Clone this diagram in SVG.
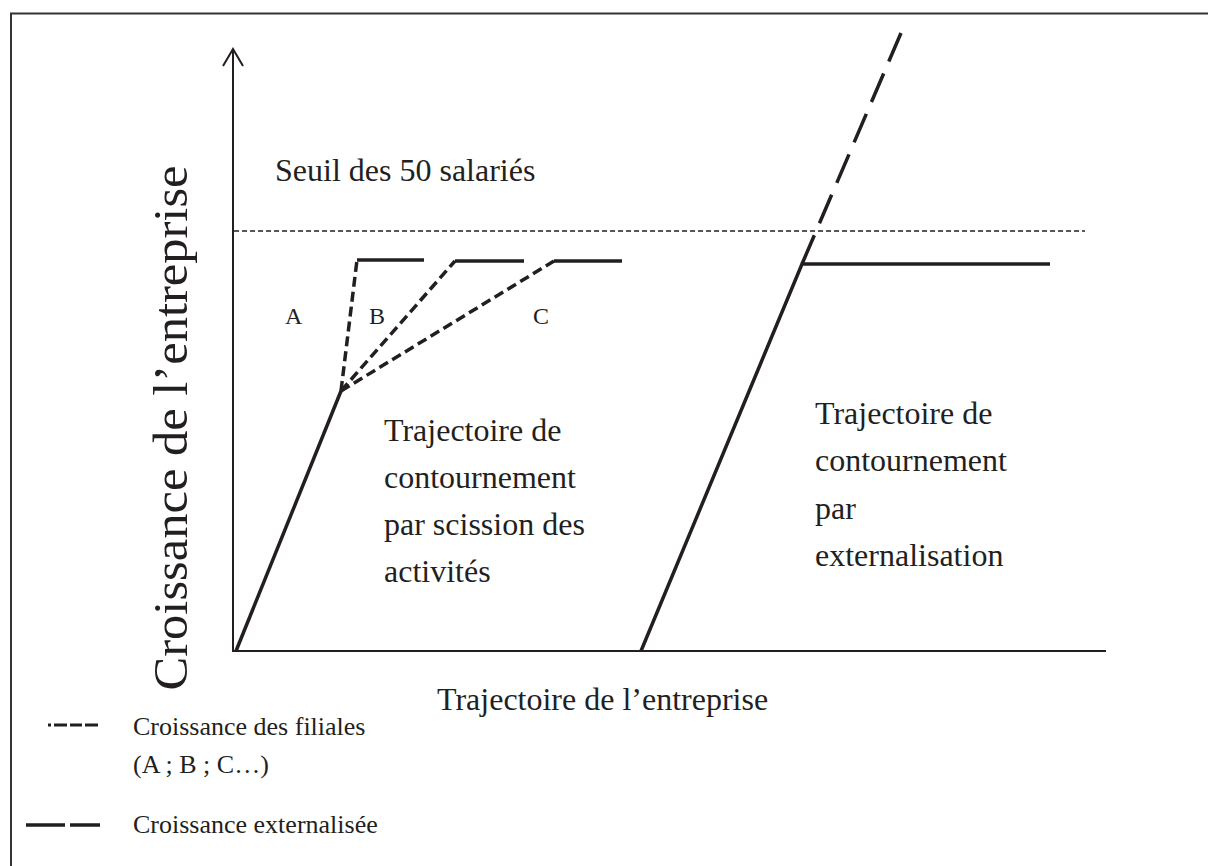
<svg xmlns="http://www.w3.org/2000/svg" width="1208" height="866" viewBox="0 0 1208 866">
<style>
text{font-family:"Liberation Serif","Times New Roman",serif;fill:#231f20}
.big{font-size:32px}
.mid{font-size:24px}
.leg{font-size:26px}
.frame{stroke:#333;stroke-width:2;fill:none}
.axis{stroke:#231f20;stroke-width:2;fill:none}
.thick{stroke:#231f20;stroke-width:3.5;fill:none}
.dash{stroke:#231f20;stroke-width:3.5;fill:none;stroke-dasharray:10 5}
.long{stroke:#231f20;stroke-width:3.5;fill:none;stroke-dasharray:31 13}
.thr{stroke:#231f20;stroke-width:1.5;fill:none;stroke-dasharray:5 3}
</style>
<rect width="1208" height="866" fill="#fff"/>
<g id="frame">
<path class="frame" d="M11,866 V13.5 H1208"/>
</g>
<g id="axes">
<path class="axis" d="M233,651 V50"/>
<path class="axis" d="M223,66 L233,49 L243,66"/>
<path class="axis" d="M232,651 H1106"/>
</g>
<g id="threshold">
<path class="thr" d="M234,231 H1085"/>
<text class="big" x="275" y="181">Seuil des 50 salariés</text>
</g>
<g id="connectors">
<path class="thick" d="M236,651 L341,391"/>
<path class="dash" d="M341,391 L357,260"/>
<path class="thick" d="M357,260 H424"/>
<path class="dash" d="M341,391 L455,261"/>
<path class="thick" d="M455,261 H524"/>
<path class="dash" d="M341,391 L554,261"/>
<path class="thick" d="M554,261 H622"/>
<path class="thick" d="M641,651 L802,264 H1050"/>
<path class="long" d="M901,33 L802,264"/>
</g>
<g id="labels-abc">
<text class="mid" x="285" y="324">A</text>
<text class="mid" x="369" y="324">B</text>
<text class="mid" x="533" y="324">C</text>
</g>
<g id="node-scission">
<text class="big" x="384" y="441">Trajectoire de</text>
<text class="big" x="384" y="488">contournement</text>
<text class="big" x="384" y="535">par scission des</text>
<text class="big" x="384" y="582">activités</text>
</g>
<g id="node-externalisation">
<text class="big" x="815" y="424">Trajectoire de</text>
<text class="big" x="815" y="471">contournement</text>
<text class="big" x="815" y="519">par</text>
<text class="big" x="815" y="566">externalisation</text>
</g>
<g id="axis-labels">
<text font-size="48" text-anchor="middle" textLength="525" lengthAdjust="spacingAndGlyphs" transform="translate(187,428) rotate(-90)">Croissance de l’entreprise</text>
<text class="big" x="437" y="710">Trajectoire de l’entreprise</text>
</g>
<g id="legend">
<path stroke="#231f20" stroke-width="3" fill="none" stroke-dasharray="3 3 13 3 12 3 13 0" d="M48,725 H98"/>
<text class="leg" x="133" y="735">Croissance des filiales</text>
<text class="leg" x="133" y="773">(A ; B ; C…)</text>
<path stroke="#231f20" stroke-width="3.5" fill="none" d="M26,825 H65 M70,825 H100"/>
<text class="leg" x="133" y="833">Croissance externalisée</text>
</g>
</svg>
